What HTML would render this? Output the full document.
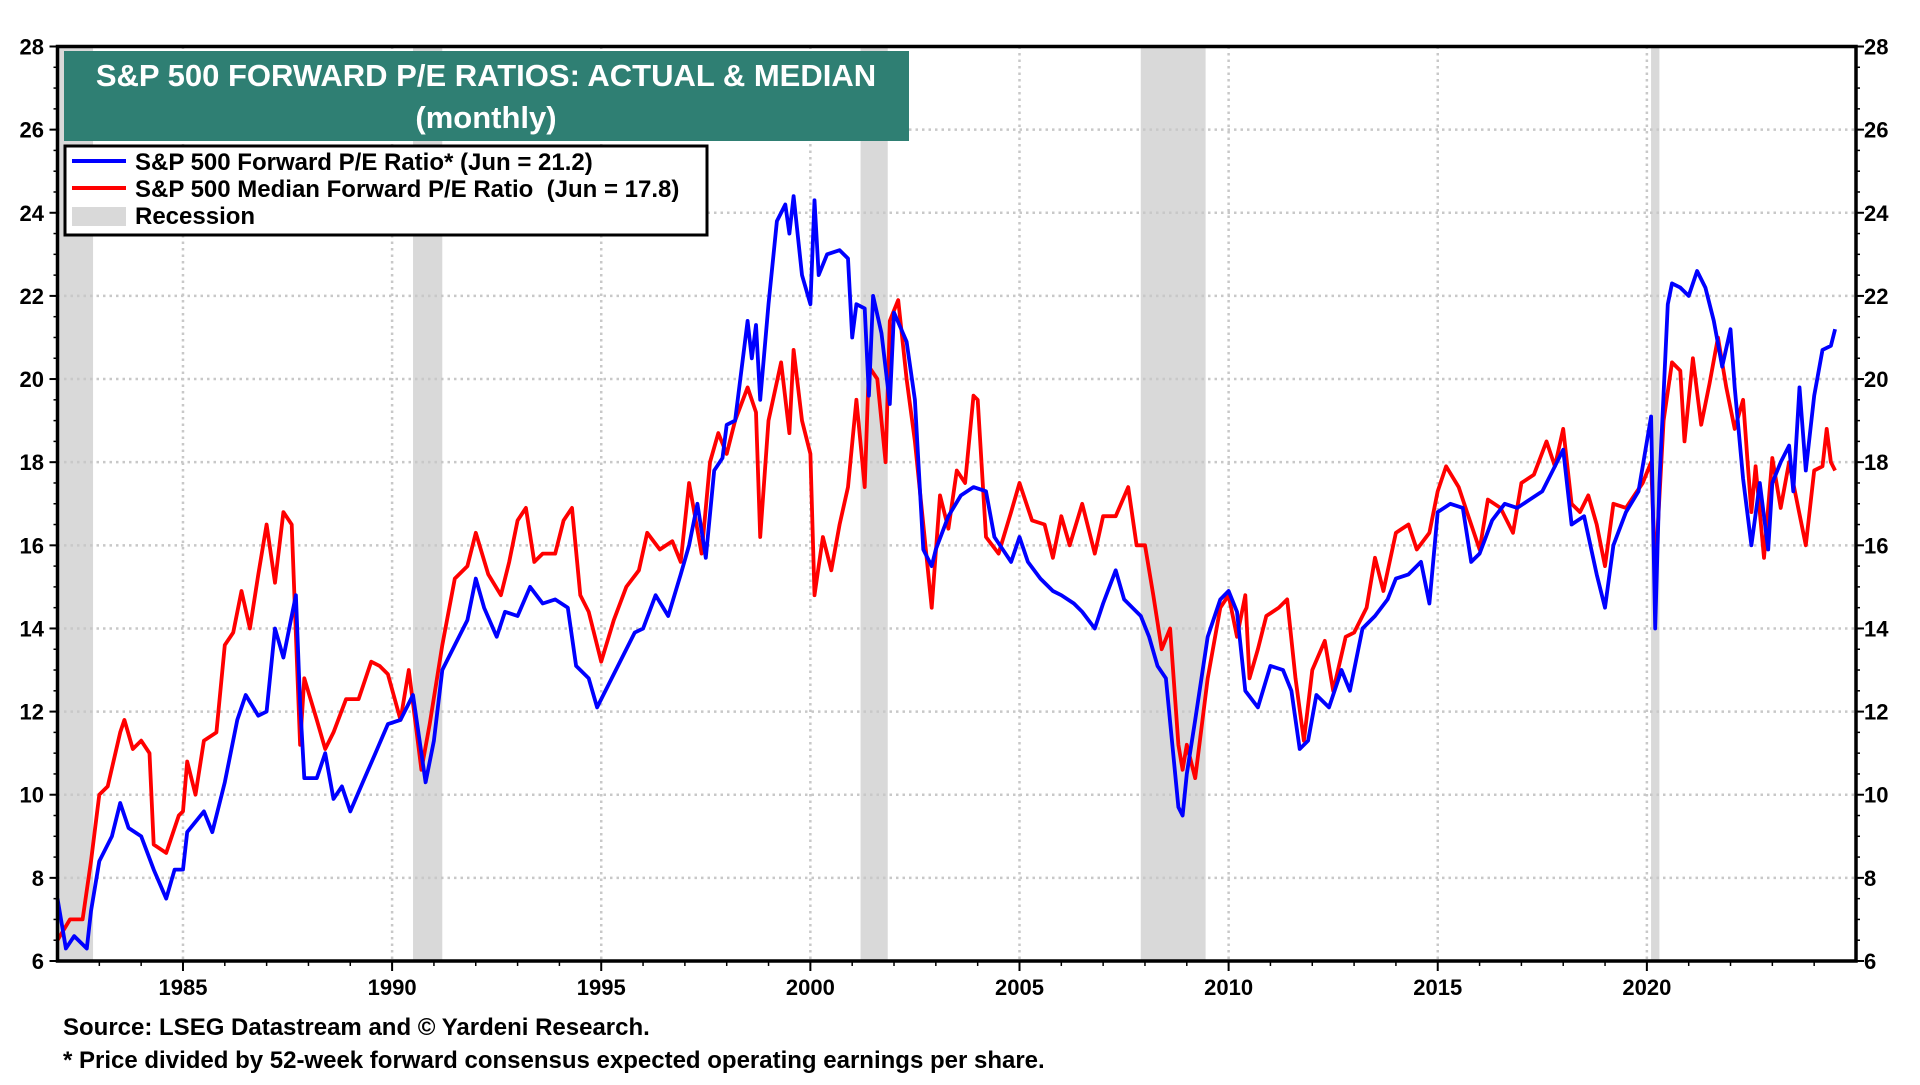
<!DOCTYPE html>
<html><head><meta charset="utf-8"><style>
body{margin:0;background:#fff;width:1920px;height:1080px;overflow:hidden;font-family:"Liberation Sans",sans-serif;}
svg text{font-family:"Liberation Sans",sans-serif;font-weight:bold;}
</style></head><body>
<svg id="chart" width="1920" height="1080" xmlns="http://www.w3.org/2000/svg">
<g id="rec"></g>
<g id="grid"></g>
<g id="series"></g>
<g id="axes"></g>
<g>
<rect x="64" y="51" width="845" height="90" fill="#2f7f73"/>
<text x="486" y="86" text-anchor="middle" fill="#fff" font-size="31">S&amp;P 500 FORWARD P/E RATIOS: ACTUAL &amp; MEDIAN</text>
<text x="486" y="128" text-anchor="middle" fill="#fff" font-size="31">(monthly)</text>
</g>
<g>
<rect x="65" y="146" width="642" height="89" fill="#fff" stroke="#000" stroke-width="3"/>
<line x1="72" y1="161" x2="126" y2="161" stroke="#0000ff" stroke-width="4"/>
<text x="135" y="170" font-size="24">S&amp;P 500 Forward P/E Ratio* (Jun = 21.2)</text>
<line x1="72" y1="188" x2="126" y2="188" stroke="#ff0000" stroke-width="4"/>
<text x="135" y="197" font-size="24">S&amp;P 500 Median Forward P/E Ratio &#160;(Jun = 17.8)</text>
<rect x="72" y="207" width="54" height="19" fill="#d9d9d9"/>
<text x="135" y="224" font-size="24">Recession</text>
</g>
<text x="63" y="1035" font-size="24">Source: LSEG Datastream and © Yardeni Research.</text>
<text x="63" y="1068" font-size="24">* Price divided by 52-week forward consensus expected operating earnings per share.</text>
</svg>
<script>
const yTicks=[6,8,10,12,14,16,18,20,22,24,26,28];
const xTickYears=[1985,1990,1995,2000,2005,2010,2015,2020];
const recStart=[1981.9,1990.5,2001.2,2007.9,2020.1];
const recEnd=[1982.85,1991.2,2001.85,2009.45,2020.3];
const fwdDates=[1982.0,1982.2,1982.4,1982.7,1982.8,1983.0,1983.3,1983.5,1983.7,1984.0,1984.3,1984.6,1984.8,1985.0,1985.1,1985.5,1985.7,1986.0,1986.3,1986.5,1986.8,1987.0,1987.2,1987.4,1987.6,1987.7,1987.8,1987.9,1988.2,1988.4,1988.6,1988.8,1989.0,1989.3,1989.6,1989.9,1990.2,1990.5,1990.8,1991.0,1991.2,1991.5,1991.8,1992.0,1992.2,1992.5,1992.7,1993.0,1993.3,1993.6,1993.9,1994.2,1994.4,1994.7,1994.9,1995.2,1995.5,1995.8,1996.0,1996.3,1996.6,1996.9,1997.1,1997.3,1997.5,1997.7,1997.9,1998.0,1998.2,1998.5,1998.6,1998.7,1998.8,1999.0,1999.2,1999.4,1999.5,1999.6,1999.8,2000.0,2000.1,2000.2,2000.4,2000.7,2000.9,2001.0,2001.1,2001.3,2001.4,2001.5,2001.7,2001.9,2002.0,2002.3,2002.5,2002.7,2002.9,2003.0,2003.3,2003.6,2003.9,2004.2,2004.4,2004.6,2004.8,2005.0,2005.2,2005.5,2005.8,2006.0,2006.3,2006.5,2006.8,2007.0,2007.3,2007.5,2007.7,2007.9,2008.1,2008.3,2008.5,2008.8,2008.9,2009.0,2009.2,2009.5,2009.8,2010.0,2010.2,2010.4,2010.7,2011.0,2011.3,2011.5,2011.7,2011.9,2012.1,2012.4,2012.7,2012.9,2013.2,2013.5,2013.8,2014.0,2014.3,2014.6,2014.8,2015.0,2015.3,2015.6,2015.8,2016.0,2016.3,2016.6,2016.9,2017.2,2017.5,2017.8,2018.0,2018.2,2018.5,2018.8,2019.0,2019.2,2019.5,2019.8,2020.0,2020.1,2020.2,2020.3,2020.5,2020.6,2020.8,2021.0,2021.2,2021.4,2021.6,2021.8,2022.0,2022.1,2022.3,2022.5,2022.7,2022.9,2023.0,2023.2,2023.4,2023.5,2023.65,2023.8,2024.0,2024.2,2024.4,2024.5];
const fwdVals=[7.5,6.3,6.6,6.3,7.2,8.4,9.0,9.8,9.2,9.0,8.2,7.5,8.2,8.2,9.1,9.6,9.1,10.3,11.8,12.4,11.9,12.0,14.0,13.3,14.3,14.8,12.2,10.4,10.4,11.0,9.9,10.2,9.6,10.3,11.0,11.7,11.8,12.4,10.3,11.3,13.0,13.6,14.2,15.2,14.5,13.8,14.4,14.3,15.0,14.6,14.7,14.5,13.1,12.8,12.1,12.7,13.3,13.9,14.0,14.8,14.3,15.3,16.0,17.0,15.7,17.8,18.1,18.9,19.0,21.4,20.5,21.3,19.5,21.8,23.8,24.2,23.5,24.4,22.5,21.8,24.3,22.5,23.0,23.1,22.9,21.0,21.8,21.7,19.6,22.0,21.1,19.4,21.6,20.9,19.5,15.9,15.5,15.9,16.7,17.2,17.4,17.3,16.2,15.9,15.6,16.2,15.6,15.2,14.9,14.8,14.6,14.4,14.0,14.6,15.4,14.7,14.5,14.3,13.8,13.1,12.8,9.7,9.5,10.5,11.8,13.8,14.7,14.9,14.4,12.5,12.1,13.1,13.0,12.5,11.1,11.3,12.4,12.1,13.0,12.5,14.0,14.3,14.7,15.2,15.3,15.6,14.6,16.8,17.0,16.9,15.6,15.8,16.6,17.0,16.9,17.1,17.3,17.9,18.3,16.5,16.7,15.3,14.5,16.0,16.8,17.3,18.5,19.1,14.0,17.5,21.8,22.3,22.2,22.0,22.6,22.2,21.4,20.3,21.2,19.8,17.6,16.0,17.5,15.9,17.5,18.0,18.4,17.3,19.8,17.8,19.6,20.7,20.8,21.2];
const medDates=[1982.0,1982.3,1982.6,1982.8,1983.0,1983.2,1983.5,1983.6,1983.8,1984.0,1984.2,1984.3,1984.6,1984.9,1985.0,1985.1,1985.3,1985.5,1985.8,1986.0,1986.2,1986.4,1986.6,1986.8,1987.0,1987.2,1987.4,1987.6,1987.8,1987.9,1988.2,1988.4,1988.6,1988.9,1989.2,1989.5,1989.7,1989.9,1990.2,1990.4,1990.7,1990.9,1991.2,1991.5,1991.8,1992.0,1992.3,1992.6,1992.8,1993.0,1993.2,1993.4,1993.6,1993.9,1994.1,1994.3,1994.5,1994.7,1995.0,1995.3,1995.6,1995.9,1996.1,1996.4,1996.7,1996.9,1997.1,1997.4,1997.6,1997.8,1998.0,1998.2,1998.5,1998.7,1998.8,1999.0,1999.3,1999.5,1999.6,1999.8,2000.0,2000.1,2000.3,2000.5,2000.7,2000.9,2001.1,2001.3,2001.4,2001.6,2001.8,2001.9,2002.1,2002.3,2002.5,2002.7,2002.9,2003.1,2003.3,2003.5,2003.7,2003.9,2004.0,2004.2,2004.5,2004.8,2005.0,2005.3,2005.6,2005.8,2006.0,2006.2,2006.5,2006.8,2007.0,2007.3,2007.6,2007.8,2008.0,2008.2,2008.4,2008.6,2008.8,2008.9,2009.0,2009.2,2009.5,2009.8,2010.0,2010.2,2010.4,2010.5,2010.7,2010.9,2011.2,2011.4,2011.6,2011.8,2012.0,2012.3,2012.5,2012.8,2013.0,2013.3,2013.5,2013.7,2014.0,2014.3,2014.5,2014.8,2015.0,2015.2,2015.5,2015.7,2016.0,2016.2,2016.5,2016.8,2017.0,2017.3,2017.6,2017.8,2018.0,2018.2,2018.4,2018.6,2018.8,2019.0,2019.2,2019.5,2019.7,2019.9,2020.1,2020.2,2020.4,2020.6,2020.8,2020.9,2021.1,2021.3,2021.5,2021.7,2021.9,2022.1,2022.3,2022.4,2022.5,2022.6,2022.8,2023.0,2023.2,2023.4,2023.6,2023.8,2024.0,2024.2,2024.3,2024.4,2024.5];
const medVals=[6.5,7.0,7.0,8.4,10.0,10.2,11.5,11.8,11.1,11.3,11.0,8.8,8.6,9.5,9.6,10.8,10.0,11.3,11.5,13.6,13.9,14.9,14.0,15.3,16.5,15.1,16.8,16.5,11.2,12.8,11.8,11.1,11.5,12.3,12.3,13.2,13.1,12.9,11.8,13.0,10.6,11.7,13.6,15.2,15.5,16.3,15.3,14.8,15.6,16.6,16.9,15.6,15.8,15.8,16.6,16.9,14.8,14.4,13.2,14.2,15.0,15.4,16.3,15.9,16.1,15.6,17.5,15.8,18.0,18.7,18.2,19.0,19.8,19.2,16.2,19.0,20.4,18.7,20.7,19.0,18.2,14.8,16.2,15.4,16.5,17.4,19.5,17.4,20.3,20.0,18.0,21.4,21.9,20.0,18.5,16.5,14.5,17.2,16.4,17.8,17.5,19.6,19.5,16.2,15.8,16.8,17.5,16.6,16.5,15.7,16.7,16.0,17.0,15.8,16.7,16.7,17.4,16.0,16.0,14.8,13.5,14.0,11.2,10.6,11.2,10.4,12.8,14.5,14.8,13.8,14.8,12.8,13.5,14.3,14.5,14.7,12.8,11.3,13.0,13.7,12.5,13.8,13.9,14.5,15.7,14.9,16.3,16.5,15.9,16.3,17.3,17.9,17.4,16.8,15.9,17.1,16.9,16.3,17.5,17.7,18.5,17.9,18.8,17.0,16.8,17.2,16.5,15.5,17.0,16.9,17.2,17.5,18.0,15.3,19.0,20.4,20.2,18.5,20.5,18.9,19.9,21.0,19.8,18.8,19.5,18.1,16.8,17.9,15.7,18.1,16.9,18.0,17.0,16.0,17.8,17.9,18.8,18.0,17.8];

const L=57.5,R=1856,T=46.5,B=961,X0=1982.0,X1=2025.0,Y0=6,Y1=28;
const xs=v=>L+(v-X0)/(X1-X0)*(R-L);
const ys=v=>B-(v-Y0)/(Y1-Y0)*(B-T);
const NS='http://www.w3.org/2000/svg';
function mk(tag,parent,attrs){const e=document.createElementNS(NS,tag);for(const k in attrs)e.setAttribute(k,attrs[k]);parent.appendChild(e);return e;}
const rec=document.getElementById('rec'),grid=document.getElementById('grid'),ser=document.getElementById('series'),ax=document.getElementById('axes');
recStart.forEach((s,i)=>{const x1=Math.max(L,xs(s)),x2=xs(recEnd[i]);
 const r=mk('rect',rec,{x:x1,y:T,width:x2-x1,height:B-T,fill:'#d9d9d9'});
 
 });
yTicks.forEach(v=>{
 if(v>Y0&&v<Y1){const g=mk('line',grid,{x1:L,x2:R,y1:ys(v),y2:ys(v),stroke:'#c8c8c8','stroke-width':2.5,'stroke-dasharray':'2.5 4'});
 
 }
 const t1=mk('text',ax,{x:44,y:ys(v)+8,'text-anchor':'end','font-size':22});t1.textContent=v;
 
 
 const t2=mk('text',ax,{x:1864,y:ys(v)+8,'font-size':22});t2.textContent=v;
 
 
 mk('line',ax,{x1:L-8,x2:L,y1:ys(v),y2:ys(v),stroke:'#000','stroke-width':2});
 mk('line',ax,{x1:R,x2:R+8,y1:ys(v),y2:ys(v),stroke:'#000','stroke-width':2});
});
for(let v=Y0;v<=Y1;v+=0.5){mk('line',ax,{x1:L-4,x2:L,y1:ys(v),y2:ys(v),stroke:'#000','stroke-width':1.5});mk('line',ax,{x1:R,x2:R+4,y1:ys(v),y2:ys(v),stroke:'#000','stroke-width':1.5});}
xTickYears.forEach(y=>{
 const g=mk('line',grid,{x1:xs(y),x2:xs(y),y1:T,y2:B,stroke:'#c8c8c8','stroke-width':2.5,'stroke-dasharray':'2.5 4'});
 
 
 const t=mk('text',ax,{x:xs(y),y:995,'text-anchor':'middle','font-size':22});t.textContent=y;
 
 
 mk('line',ax,{x1:xs(y),x2:xs(y),y1:B,y2:B+10,stroke:'#000','stroke-width':2});
});
for(let y=1983;y<=2024;y++){mk('line',ax,{x1:xs(y),x2:xs(y),y1:B,y2:B+5,stroke:'#000','stroke-width':1.5});}
function line(d,v,c,name){const p=d.map((t,i)=>(i?'L':'M')+xs(t).toFixed(1)+' '+ys(v[i]).toFixed(1)).join(' ');
 const e=mk('path',ser,{d:p,fill:'none',stroke:c,'stroke-width':3.8,'stroke-linejoin':'round'});
 
 }
line(medDates,medVals,'#ff0000','median-forward-pe-line');
line(fwdDates,fwdVals,'#0000ff','forward-pe-line');
const f=mk('rect',ax,{x:L,y:T,width:R-L,height:B-T,fill:'none',stroke:'#000','stroke-width':3.5});


</script>
</body></html>
